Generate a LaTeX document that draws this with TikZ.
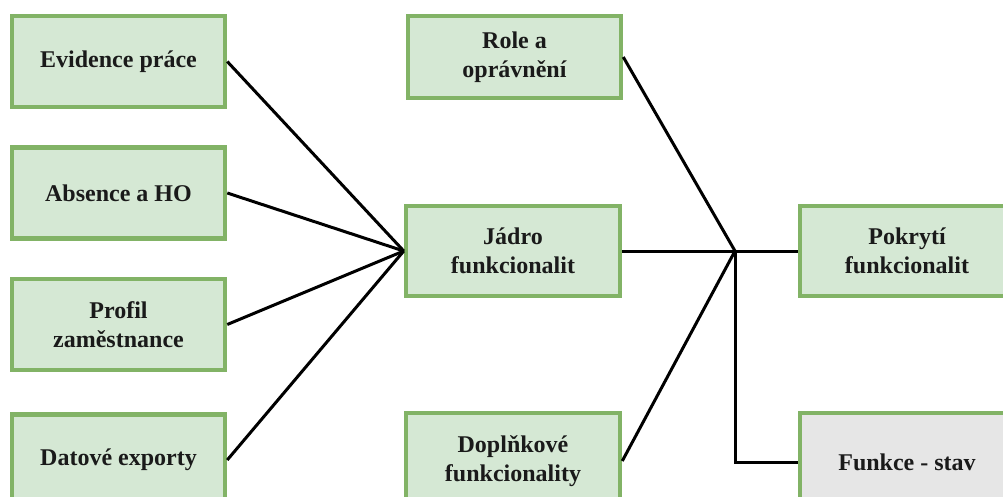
\documentclass[tikz,border=0pt]{standalone}
\usepackage{fontspec}
\setmainfont{Liberation Serif}
\usepackage{tikz}
\definecolor{boxgreen}{HTML}{82B366}
\definecolor{boxfill}{HTML}{D5E8D4}
\definecolor{stavfill}{HTML}{E6E6E6}
\definecolor{textdark}{HTML}{1A1A1A}
\tikzset{
  modul/.style={shape=rectangle, draw=boxgreen, fill=boxfill, line width=4.5pt,
    minimum width=213pt, minimum height=91pt, align=center, text=textdark,
    font=\fontsize{24}{29}\selectfont\bfseries},
  spoj/.style={draw=black, line width=3pt}
}

\begin{document}
\begin{tikzpicture}[x=1pt, y=-1pt]
     \useasboundingbox (0,0) rectangle (1003,497);

     \node[modul] (evid)   at (118.5,61.5) {Evidence práce};
     \node[modul] (abs)    at (118.5,193)  {Absence a HO};
     \node[modul] (profil) at (118.5,324.5) {Profil\\zaměstnance};
     \node[modul] (export) at (118.5,460)  {Datové exporty};

     \node[modul, minimum height=82pt]  (role)  at (514.5,57) {Role a\\oprávnění};
     \node[modul, minimum width=214pt, minimum height=90pt] (jadro) at (513,251) {Jádro\\funkcionalit};
     \node[modul, minimum width=214pt, minimum height=96pt] (dopl)  at (513,461) {Doplňkové\\funkcionality};

     \node[modul, minimum width=214pt, minimum height=90pt] (pokryti) at (907,251) {Pokrytí\\funkcionalit};
     \node[modul, fill=stavfill, minimum width=214pt, minimum height=98pt] (stav) at (907,462) {Funkce - stav};

     \coordinate (uzel) at (735,251);

     \path[spoj] (evid.east)   -- (jadro.west);
     \path[spoj] (abs.east)    -- (jadro.west);
     \path[spoj] (profil.east) -- (jadro.west);
     \path[spoj] (export.east) -- (jadro.west);

     \path[spoj] (jadro.east) -- (uzel) -- (pokryti.west);
     \path[spoj] (role.east)  -- (uzel);
     \path[spoj] (dopl.east)  -- (uzel);
     \path[spoj] (uzel) |- (stav.west);
    \end{tikzpicture}
\end{document}
